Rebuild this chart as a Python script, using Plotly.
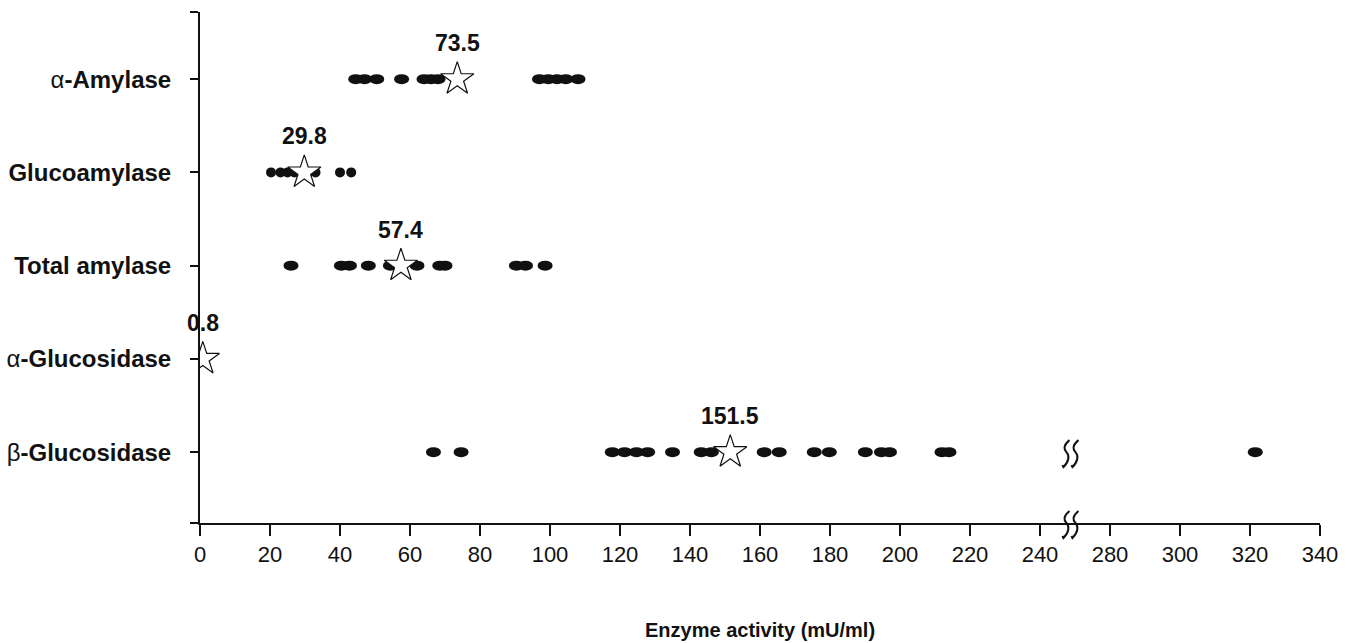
import plotly.graph_objects as go

# ---------------- data ----------------
categories = ["α-Amylase", "Glucoamylase", "Total amylase", "α-Glucosidase", "β-Glucosidase"]
category_labels = ["α<b>-Amylase</b>", "<b>Glucoamylase</b>", "<b>Total amylase</b>",
                   "α<b>-Glucosidase</b>", "β<b>-Glucosidase</b>"]

alpha_amylase = [44.5, 47.0, 50.5, 57.6, 64.0, 66.0, 68.0, 97.0, 99.5, 102.0, 104.5, 108.0]
glucoamylase = [20.3, 23.0, 25.0, 27.0, 31.0, 33.0, 40.0, 43.2]
total_amylase = [26.0, 40.4, 42.7, 48.1, 54.4, 62.0, 68.5, 70.0, 90.4, 93.0, 98.6]
alpha_glucosidase = []
beta_glucosidase = [66.7, 74.6, 117.8, 121.3, 124.7, 127.9, 135.0, 143.2, 146.1, 161.2,
                    165.5, 175.5, 179.8, 190.1, 194.7, 197.0, 212.0, 214.0, 321.5]

means = [73.5, 29.8, 57.4, 0.8, 151.5]
mean_labels = ["73.5", "29.8", "57.4", "0.8", "151.5"]

x_tick_values = [0, 20, 40, 60, 80, 100, 120, 140, 160, 180, 200, 220, 240, 280, 300, 320, 340]

# broken axis: the 240-280 span is drawn as a single 20-unit step
BREAK_LOW, BREAK_HIGH, BREAK_GAP = 240, 280, 20


def disp(v):
    return v if v <= BREAK_LOW + 10 else v - BREAK_GAP


series = [alpha_amylase, glucoamylase, total_amylase, alpha_glucosidase, beta_glucosidase]
n = len(categories)
row_y = [n - i for i in range(n)]          # top row highest
dot_half_w = [7.5, 5, 7.5, 7.5, 7.5]
dot_half_h = [5, 5, 5, 5, 5]

FONT = "Liberation Sans, Arial, sans-serif"

fig = go.Figure()
shapes = []

for i, vals in enumerate(series):
    xs = [disp(v) for v in vals]
    fig.add_trace(go.Scatter(
        x=xs, y=[row_y[i]] * len(xs), mode="markers",
        marker=dict(symbol="circle", size=8, color="#111111"),
        name=categories[i], showlegend=False,
        hovertext=[f"{categories[i]}: {v}" for v in vals], hoverinfo="text"))
    for x in xs:
        shapes.append(dict(type="circle", xref="x", yref="y",
                           xsizemode="pixel", ysizemode="pixel",
                           xanchor=x, yanchor=row_y[i],
                           x0=-dot_half_w[i], x1=dot_half_w[i],
                           y0=-dot_half_h[i], y1=dot_half_h[i],
                           fillcolor="#111111", line=dict(width=0), layer="below"))

fig.add_trace(go.Scatter(
    x=[disp(m) for m in means], y=row_y, mode="markers",
    marker=dict(symbol="star", size=25, color="white", line=dict(color="#111111", width=1.2)),
    showlegend=False, hovertext=[f"mean {m}" for m in mean_labels], hoverinfo="text"))

annotations = []
for i, m in enumerate(means):
    annotations.append(dict(x=disp(m), y=row_y[i], xref="x", yref="y", text=f"<b>{mean_labels[i]}</b>",
                            showarrow=False, yshift=36, font=dict(family=FONT, size=23, color="#111111")))

annotations.append(dict(x=0.5, y=-0.21, xref="paper", yref="paper", yanchor="middle",
                        text="<b>Enzyme activity (mU/ml)</b>", showarrow=False,
                        font=dict(family=FONT, size=20, color="#111111")))


def s_path(dx):
    return (f"M {dx+3},{12} C {dx-3},{7} {dx-3},{3} {dx},{0} "
            f"C {dx+3},{-3} {dx+3},{-9} {dx-3},{-15} L {dx-4},{-13}")


y_lo, y_hi = 0.24, 5.72
break_x = disp(BREAK_LOW) + 8.7
for yref, yanc in (("y", row_y[4]), ("paper", 0)):
    for dx in (-4, 5):
        shapes.append(dict(type="path", xref="x", yref=yref, xsizemode="pixel", ysizemode="pixel",
                           xanchor=break_x, yanchor=yanc, path=s_path(dx),
                           line=dict(color="#111111", width=2), layer="above"))

fig.update_layout(
    width=1352, height=643,
    margin=dict(l=200, r=32, t=12, b=120),
    paper_bgcolor="white", plot_bgcolor="white",
    shapes=shapes, annotations=annotations,
    font=dict(family=FONT, color="#111111"),
    xaxis=dict(range=[0, 320], showgrid=False, zeroline=False, automargin=False,
               showline=True, linecolor="#111111", linewidth=2,
               ticks="outside", ticklen=11, tickwidth=2, tickcolor="#111111",
               tickvals=[disp(v) for v in x_tick_values],
               ticktext=[str(v) for v in x_tick_values],
               tickfont=dict(family=FONT, size=22, color="#111111")),
    yaxis=dict(range=[y_lo, y_hi], showgrid=False, zeroline=False, automargin=False,
               showline=True, linecolor="#111111", linewidth=2,
               ticks="outside", ticklen=8, tickwidth=2, tickcolor="#111111",
               tickvals=[y_lo] + row_y + [y_hi],
               ticktext=[""] + category_labels + [""],
               ticklabelstandoff=14,
               tickfont=dict(family=FONT, size=24, color="#111111")),
)

fig.write_html("out.html")
